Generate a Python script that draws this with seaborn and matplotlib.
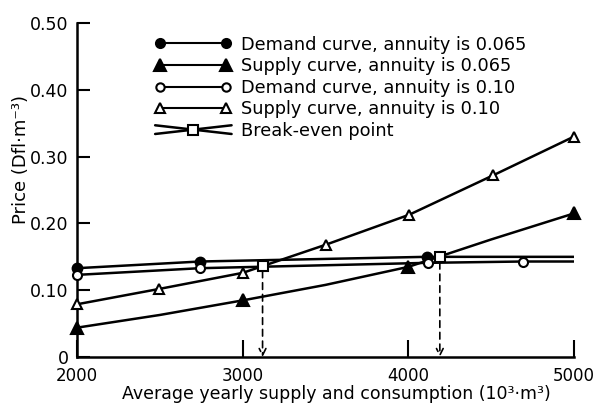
import matplotlib
matplotlib.use("Agg")
import matplotlib.pyplot as plt
from matplotlib.lines import Line2D
from matplotlib.legend_handler import HandlerBase
import pandas as pd
import seaborn as sns

sns.set_theme(style="ticks")
plt.rcParams["font.family"] = ["DejaVu Sans"]
plt.rcParams["text.color"] = "black"
plt.rcParams["axes.labelcolor"] = "black"
plt.rcParams["xtick.color"] = "black"
plt.rcParams["ytick.color"] = "black"

# Demand curve, annuity 0.065 (filled circles)
dem065_x = [2000, 2742, 4110, 5000]
dem065_y = [0.133, 0.143, 0.150, 0.150]
dem065_mark = [True, True, True, False]

# Supply curve, annuity 0.065 (filled triangles)
sup065_x = [2000, 2500, 3004, 3500, 4000, 4500, 5000]
sup065_y = [0.044, 0.063, 0.085, 0.108, 0.135, 0.176, 0.215]
sup065_mark = [True, False, True, False, True, False, True]

# Demand curve, annuity 0.10 (open circles)
dem10_x = [2000, 2742, 4116, 4690, 5000]
dem10_y = [0.123, 0.133, 0.141, 0.143, 0.143]
dem10_mark = [True, True, True, True, False]

# Supply curve, annuity 0.10 (open triangles)
sup10_x = [2000, 2497, 3000, 3500, 4005, 4512, 5000]
sup10_y = [0.079, 0.102, 0.126, 0.168, 0.213, 0.272, 0.330]
sup10_mark = [True, True, True, True, True, True, True]

# Break-even points
be_x = [3120, 4190]
be_y = [0.137, 0.150]

labels = [
    "Demand curve, annuity is 0.065",
    "Supply curve, annuity is 0.065",
    "Demand curve, annuity is 0.10",
    "Supply curve, annuity is 0.10",
    "Break-even point",
]

frames = []
for name, xs, ys, mk in [
    (labels[0], dem065_x, dem065_y, dem065_mark),
    (labels[1], sup065_x, sup065_y, sup065_mark),
    (labels[2], dem10_x, dem10_y, dem10_mark),
    (labels[3], sup10_x, sup10_y, sup10_mark),
]:
    frames.append(pd.DataFrame({"x": xs, "y": ys, "marked": mk, "series": name}))
df = pd.concat(frames, ignore_index=True)

styles = {
    labels[0]: dict(marker="o", mfc="black", ms=7),
    labels[1]: dict(marker="^", mfc="black", ms=8.5),
    labels[2]: dict(marker="o", mfc="white", ms=6.5),
    labels[3]: dict(marker="^", mfc="white", ms=7.5),
}

fig = plt.figure(figsize=(5.97, 4.03), dpi=100)
ax = fig.add_axes([0.129, 0.114, 0.8325, 0.829])

handles = []
for name in labels[:4]:
    sub = df[df["series"] == name]
    sns.lineplot(data=sub, x="x", y="y", ax=ax, color="black", lw=1.8,
                 sort=False, estimator=None, legend=False)
    pts = sub[sub["marked"]]
    st = styles[name]
    ax.plot(pts["x"], pts["y"], ls="none", marker=st["marker"], ms=st["ms"],
            mfc=st["mfc"], mec="black", mew=1.5, clip_on=False, zorder=5)
    handles.append(Line2D([], [], color="black", lw=1.5, marker=st["marker"],
                          ms=st["ms"] - 0.5, mfc=st["mfc"], mec="black", mew=1.5))

# Dashed drop lines from the break-even points to the x-axis
for bx, by in zip(be_x, be_y):
    ax.annotate("", xy=(bx, 0.0), xytext=(bx, by),
                arrowprops=dict(arrowstyle="->", ls=(0, (4, 3)), lw=1.2,
                                color="black", shrinkA=4, shrinkB=0,
                                mutation_scale=12))
ax.plot(be_x, be_y, ls="none", marker="s", ms=7.5, mfc="white", mec="black",
        mew=1.5, zorder=6)


class BreakEvenHandler(HandlerBase):
    def create_artists(self, legend, orig_handle, xdescent, ydescent,
                       width, height, fontsize, trans):
        cx, cy = width / 2 - xdescent, height / 2 - ydescent
        l1 = Line2D([-xdescent, width - xdescent], [cy - 0.35 * height, cy + 0.35 * height],
                    color="black", lw=1.8, transform=trans)
        l2 = Line2D([-xdescent, width - xdescent], [cy + 0.35 * height, cy - 0.35 * height],
                    color="black", lw=1.8, transform=trans)
        sq = Line2D([cx], [cy], ls="none", marker="s", ms=6.5, mfc="white",
                    mec="black", mew=1.5, transform=trans)
        return [l1, l2, sq]


be_handle = Line2D([], [])
handles.append(be_handle)

leg = ax.legend(handles, labels, loc="upper left", bbox_to_anchor=(0.125, 1.01),
                frameon=False, numpoints=2, handlelength=4.3, handletextpad=0.55,
                labelspacing=0.2, fontsize=12.8,
                handler_map={be_handle: BreakEvenHandler()})

ax.set_xlim(2000, 5000)
ax.set_ylim(0, 0.5)
ax.set_xticks([2000, 3000, 4000, 5000])
ax.set_yticks([0, 0.1, 0.2, 0.3, 0.4, 0.5])
ax.set_yticklabels(["0", "0.10", "0.20", "0.30", "0.40", "0.50"])
ax.tick_params(axis="x", direction="in", length=12, width=1.5, labelsize=12, pad=7)
ax.tick_params(axis="y", direction="in", length=9, width=1.5, labelsize=12.5, pad=6)
for s in ["top", "right"]:
    ax.spines[s].set_visible(False)
for s in ["left", "bottom"]:
    ax.spines[s].set_linewidth(1.8)
    ax.spines[s].set_color("black")

ax.set_xlabel("Average yearly supply and consumption (10³·m³)", fontsize=12.5)
ax.xaxis.set_label_coords(0.521, -0.085)
ax.set_ylabel("Price (Dfl·m⁻³)", fontsize=13)
ax.yaxis.set_label_coords(-0.095, 0.59)

fig.savefig("out.png", dpi=100)
